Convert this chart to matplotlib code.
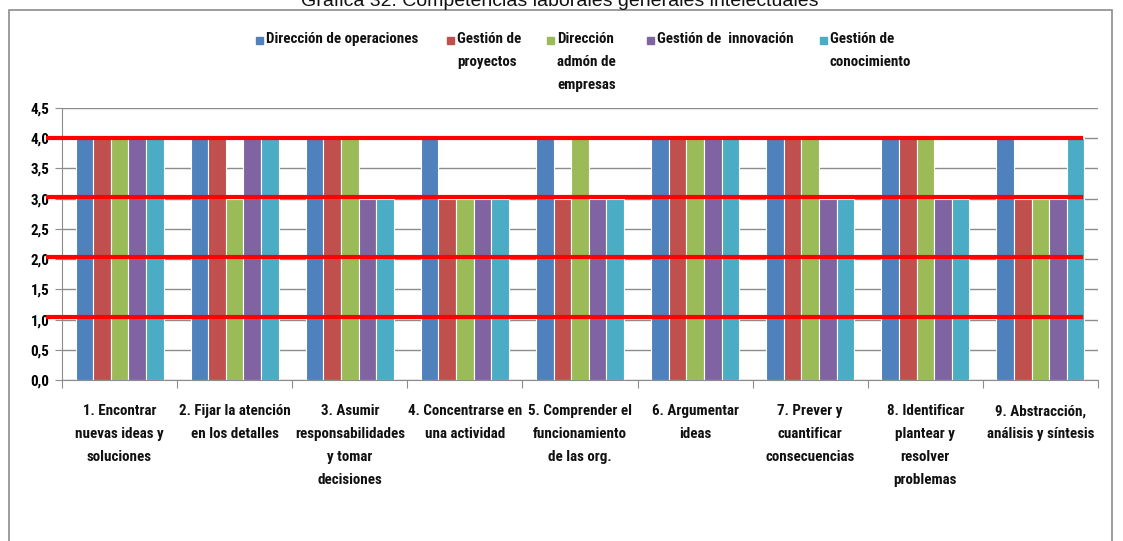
import numpy as np
import matplotlib.pyplot as plt
from matplotlib.patches import Rectangle
from matplotlib import font_manager

names = {f.name for f in font_manager.fontManager.ttflist}
narrow = 'DejaVu Sans'
for cand in ['Liberation Sans Narrow', 'Roboto Condensed', 'Open Sans Condensed', 'DejaVu Sans Condensed',
             'Noto Sans Condensed']:
    if cand in names:
        narrow = cand
        break
plt.rcParams['font.family'] = [narrow, 'DejaVu Sans']

title = "Gráfica 32. Competencias laborales generales intelectuales"
categories = ["1. Encontrar\nnuevas ideas y\nsoluciones",
              "2. Fijar la atención\nen los detalles",
              "3. Asumir\nresponsabilidades\ny tomar\ndecisiones",
              "4. Concentrarse en\nuna actividad",
              "5. Comprender el\nfuncionamiento\nde las org.",
              "6. Argumentar\nideas",
              "7. Prever y\ncuantificar\nconsecuencias",
              "8. Identificar\nplantear y\nresolver\nproblemas",
              "9. Abstracción,\nanálisis y síntesis"]
series = ["Dirección de operaciones", "Gestión de\nproyectos", "Dirección\nadmón de\nempresas",
          "Gestión de  innovación", "Gestión de\nconocimiento"]
dir_operaciones = [4, 4, 4, 4, 4, 4, 4, 4, 4]
gest_proyectos = [4, 4, 4, 3, 3, 4, 4, 4, 3]
dir_admon = [4, 3, 4, 3, 4, 4, 4, 4, 3]
gest_innovacion = [4, 4, 3, 3, 3, 4, 3, 3, 3]
gest_conocimiento = [4, 4, 3, 3, 3, 4, 3, 3, 4]
values = [dir_operaciones, gest_proyectos, dir_admon, gest_innovacion, gest_conocimiento]
red_levels = [4.0, 3.02, 2.03, 1.04]
colors = ["#4F81BD", "#C0504D", "#9BBB59", "#8064A2", "#4BACC6"]

fs = 10.8 if narrow != 'DejaVu Sans' else 8.6
stretch = 'condensed'

W, H = 1123, 541
fig = plt.figure(figsize=(W / 100, H / 100), dpi=100)
ax = fig.add_axes([62 / W, 1 - 380 / H, (1098 - 62) / W, (380 - 108) / H])

# chart border and title (title partly cut off at top, as in the source)
fig.patches.append(Rectangle((9 / W, -0.05), (1112 - 9) / W, 1.05 - 10 / H, transform=fig.transFigure,
                             fill=False, edgecolor="#8c8c8c", linewidth=1.2))
fig.text(560 / W, 1 - 2 / H, title, ha='center', va='center', fontsize=14,
         family=['Liberation Sans', 'DejaVu Sans'], color='#111111')

x = np.arange(len(categories))
w = 0.153
for i, (vals, c) in enumerate(zip(values, colors)):
    ax.bar(x + (i - 2) * w, vals, width=w, color=c, edgecolor='white', linewidth=0.8, zorder=2)

ax.set_xlim(-0.5, len(categories) - 0.5)
ax.set_ylim(0, 4.5)
ax.set_yticks(np.arange(0, 4.51, 0.5))
ax.set_yticklabels([f"{v:.1f}".replace('.', ',') for v in np.arange(0, 4.51, 0.5)],
                   fontsize=fs, fontweight='bold')
ax.yaxis.grid(True, color='#8c8c8c', linewidth=1, zorder=0)
ax.set_axisbelow(True)
ax.set_xticks(np.arange(-0.5, len(categories), 1.0))
ax.set_xticklabels([])
ax.tick_params(axis='x', length=6, color='#8c8c8c', direction='out')
ax.tick_params(axis='y', length=5, color='#8c8c8c', pad=4)
for s in ['top', 'right']:
    ax.spines[s].set_visible(False)
for s in ['left', 'bottom']:
    ax.spines[s].set_color('#8c8c8c')

for i, lab in enumerate(categories):
    ax.text(i, -0.40, lab, ha='center', va='top', fontsize=fs, fontweight='bold', fontstretch=stretch,
            linespacing=1.8, transform=ax.transData, color='#111111')

# red reference lines
for lv in red_levels:
    ax.plot([-0.64, 8.37], [lv, lv], color='#ff0000', linewidth=3, zorder=5,
            clip_on=False, solid_capstyle='butt')

# legend drawn manually
leg_x = [256, 447, 547, 647, 820]
for lx, lab, c in zip(leg_x, series, colors):
    fig.patches.append(Rectangle((lx / W, 1 - 44 / H), 7 / W, 7 / H, transform=fig.transFigure,
                                 color=c))
    fig.text((lx + 10) / W, 1 - 32 / H, lab, ha='left', va='top', fontsize=fs,
             fontweight='bold', fontstretch=stretch, linespacing=1.8, color='#111111')

fig.savefig("out.png", dpi=100)
